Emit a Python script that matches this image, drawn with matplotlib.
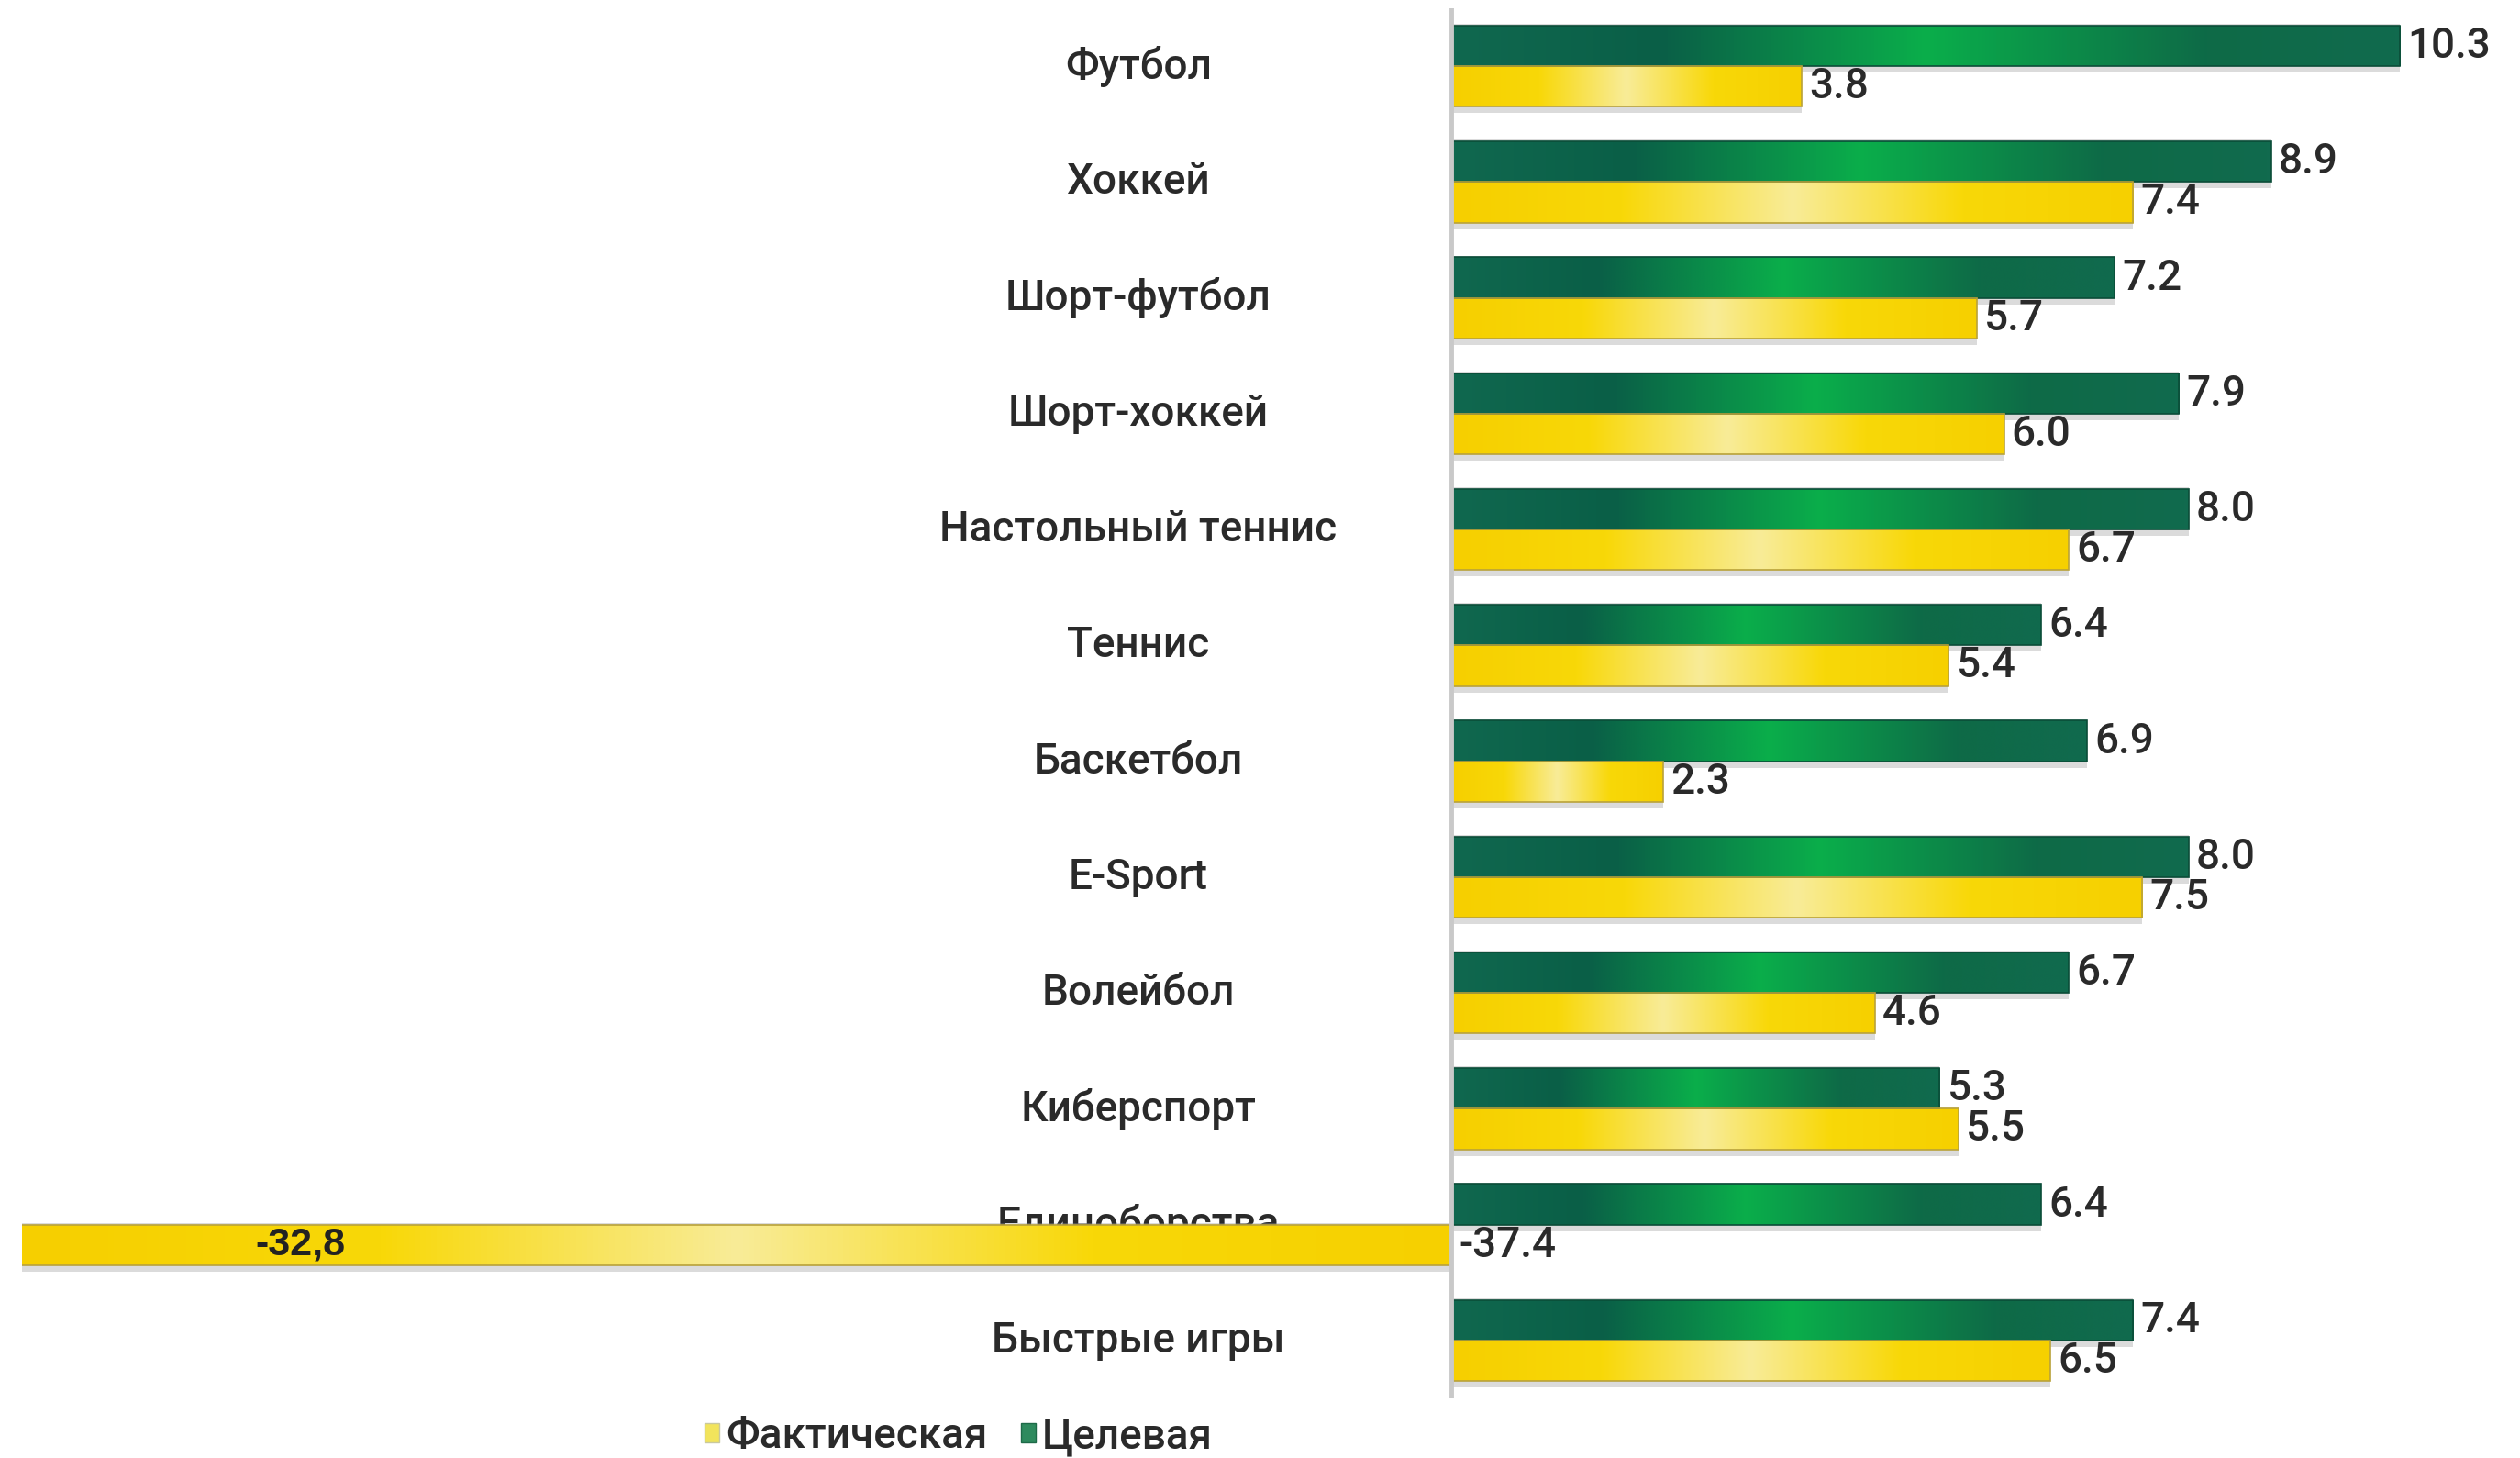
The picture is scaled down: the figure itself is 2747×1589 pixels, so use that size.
import numpy as np
import matplotlib.pyplot as plt
from matplotlib.colors import LinearSegmentedColormap
from matplotlib.patches import Patch

categories = ['Футбол', 'Хоккей', 'Шорт-футбол', 'Шорт-хоккей', 'Настольный теннис',
              'Теннис', 'Баскетбол', 'E-Sport', 'Волейбол', 'Киберспорт',
              'Единоборства', 'Быстрые игры']
target = [10.3, 8.9, 7.2, 7.9, 8.0, 6.4, 6.9, 8.0, 6.7, 5.3, 6.4, 7.4]
actual = [3.8, 7.4, 5.7, 6.0, 6.7, 5.4, 2.3, 7.5, 4.6, 5.5, -37.4, 6.5]
note_text = '-32,8'

FONT = ['Roboto', 'Liberation Sans', 'DejaVu Sans']
WEIGHT = 'medium'
TXT = '#2a2a2a'
FS = 33

green_cm = LinearSegmentedColormap.from_list(
    'g', [(0, '#10684f'), (0.22, '#0a5f47'), (0.5, '#0aae4b'), (0.8, '#0e6a47'), (1, '#116a4e')])
yellow_cm = LinearSegmentedColormap.from_list(
    'y', [(0, '#f6cf00'), (0.25, '#f8d808'), (0.5, '#f9ec98'), (0.75, '#f8d808'), (1, '#f6d000')])

fig = plt.figure(figsize=(27.47, 15.89), dpi=100)
ax = fig.add_axes([24 / 2747, 65 / 1589, 1 - 24 / 2747, 1515 / 1589])
xmin, xmax = -15.52, 11.60
ax.set_xlim(xmin, xmax)
ax.set_ylim(len(categories) - 0.5, -0.5)
ax.axis('off')

y = np.arange(len(categories))
h = 0.35
grad = np.linspace(0, 1, 256).reshape(1, -1)


def draw_series(vals, offset, cmap, edge):
    # soft grey halo behind each bar
    ax.barh(y + offset + 0.02, vals, height=h + 0.07, color='#9a9a9a', alpha=0.35,
            linewidth=0, zorder=2)
    bars = ax.barh(y + offset, vals, height=h, facecolor='none', edgecolor=edge,
                   linewidth=1.2, zorder=4)
    for b in bars:
        x0, x1 = sorted([b.get_x(), b.get_x() + b.get_width()])
        x0, x1 = max(x0, xmin), min(x1, xmax)
        y0, y1 = b.get_y(), b.get_y() + b.get_height()
        im = ax.imshow(grad, cmap=cmap, aspect='auto', extent=(x0, x1, y1, y0),
                       zorder=3, interpolation='bicubic')
        im.set_clip_path(b)
    return bars


draw_series(target, -h / 2, green_cm, '#0b4d38')
draw_series(actual, h / 2, yellow_cm, '#b9a23a')
ax.set_xlim(xmin, xmax)
ax.set_ylim(len(categories) - 0.5, -0.5)

ax.axvline(0, ymin=0, ymax=1, color='#c9c9c9', lw=3.5, zorder=5)

for i, name in enumerate(categories):
    ax.text(-3.40, i, name, ha='center', va='center', fontsize=FS, color=TXT,
            family=FONT, fontweight=WEIGHT, zorder=1)

for i, (t, a) in enumerate(zip(target, actual)):
    ax.text(t + 0.08, i - h / 2, f'{t:.1f}', ha='left', va='center', fontsize=FS,
            color=TXT, family=FONT, fontweight=WEIGHT, zorder=6)
    ax.text(max(a, 0) + 0.08, i + h / 2, f'{a:.1f}', ha='left', va='center',
            fontsize=FS, color=TXT, family=FONT, fontweight=WEIGHT, zorder=6)

ax.text(-12.5, 10 + h / 2, note_text, ha='center', va='center', fontsize=31,
        fontweight='bold', color='#222222', family=['Liberation Sans', 'DejaVu Sans'],
        zorder=6)

handles = [Patch(facecolor='#f2e45c', edgecolor='#c8c8a0'),
           Patch(facecolor='#2e8a5e', edgecolor='#1e6a48')]
fig.legend(handles, ['Фактическая', 'Целевая'], loc='center', ncol=2,
           bbox_to_anchor=(1045 / 2747, 24 / 1589), frameon=False,
           prop={'family': FONT, 'size': FS, 'weight': WEIGHT},
           handlelength=0.35, handleheight=0.35,
           handletextpad=0.15, columnspacing=0.8, labelcolor=TXT)

fig.savefig('out.png', dpi=100, facecolor='white')
